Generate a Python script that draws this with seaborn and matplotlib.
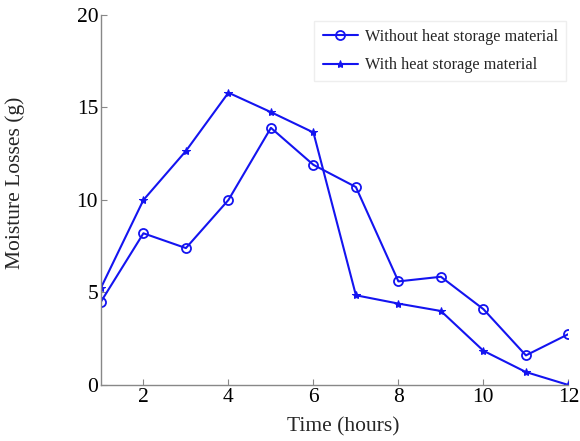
import seaborn as sns
import pandas as pd
import matplotlib.pyplot as plt

hours = [1, 2, 3, 4, 5, 6, 7, 8, 9, 10, 11, 12]
without_storage = [4.5, 8.2, 7.4, 10.0, 13.9, 11.9, 10.7, 5.6, 5.85, 4.1, 1.6, 2.75]
with_storage = [5.25, 10.0, 12.65, 15.8, 14.75, 13.65, 4.85, 4.4, 4.0, 1.85, 0.7, 0.0]

df = pd.DataFrame({"Time": hours, "without": without_storage, "with": with_storage})

sns.set_style("ticks")
plt.rcParams['font.family'] = ['Liberation Serif', 'DejaVu Serif']

blue = '#1414f0'
fig = plt.figure(figsize=(5.8, 4.41), dpi=100)
ax = fig.add_axes([0.174, 0.127, 0.806, 0.839])

sns.lineplot(data=df, x="Time", y="without", ax=ax, color=blue, marker='o',
             markersize=6.5, markerfacecolor='none', markeredgecolor=blue,
             markeredgewidth=1.3, linewidth=1.5,
             label='Without heat storage material')
sns.lineplot(data=df, x="Time", y="with", ax=ax, color=blue, marker='*',
             markersize=6, markeredgecolor=blue, linewidth=1.5,
             label='With heat storage material')

ax.set_xlim(1, 12)
ax.set_ylim(0, 20)
ax.set_xticks([2, 4, 6, 8, 10, 12])
ax.set_yticks([0, 5, 10, 15, 20])
ax.set_xlabel('Time (hours)', fontsize=15.5)
ax.set_ylabel('Moisture Losses (g)', fontsize=15.5)
ax.xaxis.set_label_coords(0.519, -0.086)
ax.yaxis.set_label_coords(-0.163, 0.546)
ax.tick_params(direction='in', length=4, colors='#888888', labelcolor='black',
               labelsize=15.5, pad=2)
for s in ['top', 'right']:
    ax.spines[s].set_visible(False)
for s in ['left', 'bottom']:
    ax.spines[s].set_color('#888888')
    ax.spines[s].set_linewidth(1.0)

leg = ax.legend(loc='upper right', fontsize=11.7, fancybox=False,
                framealpha=1, edgecolor='#eeeeee', handlelength=2.2,
                handletextpad=0.4, borderpad=0.5, labelspacing=0.75,
                borderaxespad=0, bbox_to_anchor=(0.995, 0.984))

fig.savefig('out.png', dpi=100)
